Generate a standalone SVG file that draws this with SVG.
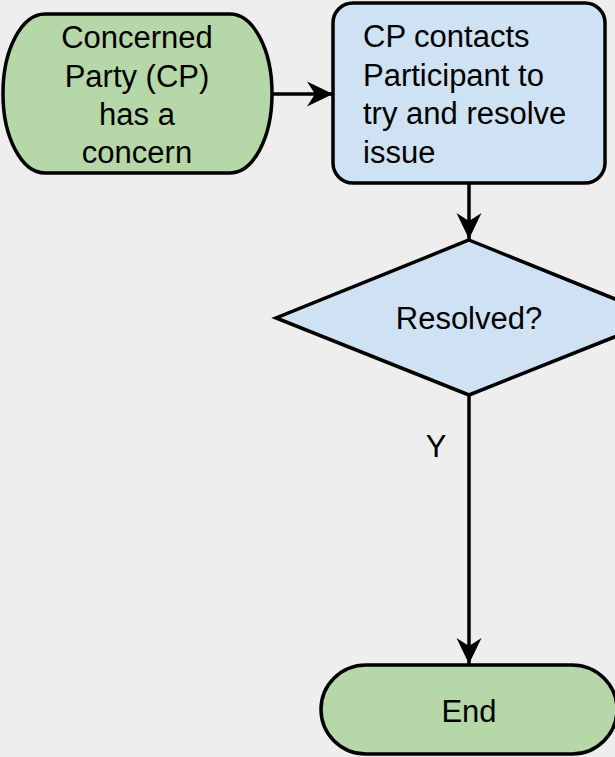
<svg xmlns="http://www.w3.org/2000/svg" width="615" height="757" viewBox="0 0 615 757">
<defs>
<style>
.shape{stroke:#000;stroke-width:3.5}
.green{fill:#b6d7a8}
.blue{fill:#cfe2f3}
.t{font-family:"Liberation Sans",Arial,sans-serif;font-size:31px;fill:#000}
.c{text-anchor:middle}
.edge{stroke:#000;stroke-width:3.5;fill:none}
</style>
<marker id="arr" viewBox="0 0 27 27" refX="26" refY="13.5" markerWidth="27" markerHeight="27" markerUnits="userSpaceOnUse" orient="auto">
<path d="M0,1 L26,13.5 L0,26 L8,13.5 Z" fill="#000"/>
</marker>
</defs>
<rect width="615" height="757" fill="#eeeeee"/>
<g id="connectors">
<line class="edge" x1="272" y1="94" x2="333" y2="94" marker-end="url(#arr)"/>
<line class="edge" x1="469" y1="183" x2="469" y2="239" marker-end="url(#arr)"/>
<line class="edge" x1="469" y1="395" x2="469" y2="664" marker-end="url(#arr)"/>
<text class="t c" x="436" y="457">Y</text>
</g>
<g id="start">
<rect class="shape green" x="3" y="14" width="269" height="159" rx="42" ry="79"/>
<text class="t c" x="137" y="48">Concerned</text>
<text class="t c" x="137" y="87">Party (CP)</text>
<text class="t c" x="137" y="125">has a</text>
<text class="t c" x="137" y="163">concern</text>
</g>
<g id="contact">
<rect class="shape blue" x="333" y="3" width="272" height="180" rx="20" ry="20"/>
<text class="t" x="363" y="47">CP contacts</text>
<text class="t" x="363" y="86">Participant to</text>
<text class="t" x="363" y="124">try and resolve</text>
<text class="t" x="363" y="163">issue</text>
</g>
<g id="resolved">
<polygon class="shape blue" points="469,240 662,318 469,395 276,318"/>
<text class="t c" x="469" y="329">Resolved?</text>
</g>
<g id="end">
<rect class="shape green" x="321" y="665" width="296" height="89" rx="45" ry="44.5"/>
<text class="t c" x="469" y="722">End</text>
</g>
</svg>
